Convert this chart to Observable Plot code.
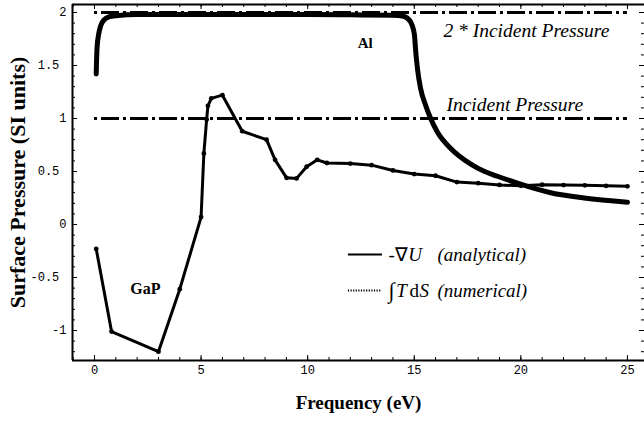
<!DOCTYPE html>
<html><head><meta charset="utf-8">
<script src="https://cdn.jsdelivr.net/npm/d3@7"></script>
<script src="https://cdn.jsdelivr.net/npm/@observablehq/plot@0.6"></script>
<style>body{margin:0;background:#fff}</style>
</head><body><div id="chart"></div>
<script>
// GaP surface pressure (thin line with points)
const gapFreq  = [0.08, 0.8, 3, 4, 5, 5.13, 5.26, 5.32, 5.48, 6, 6.93, 8.07, 8.47, 9.01, 9.48, 9.95, 10.45, 10.9, 12, 13, 14, 15, 16, 17, 18, 19, 20, 21, 22, 23, 24, 25];
const gapPress = [-0.23, -1.01, -1.2, -0.61, 0.07, 0.67, 0.99, 1.12, 1.19, 1.22, 0.88, 0.80, 0.61, 0.44, 0.435, 0.545, 0.61, 0.58, 0.575, 0.56, 0.51, 0.476, 0.46, 0.40, 0.39, 0.373, 0.365, 0.375, 0.372, 0.37, 0.365, 0.36];
// Al surface pressure (thick line)
const alFreq  = [0.08, 0.12, 0.2, 0.3, 0.45, 0.7, 1, 2, 4, 6, 8, 10, 12, 14, 14.5, 14.8, 15, 15.07, 15.15, 15.3, 15.54, 15.77, 16.09, 16.7, 17.65, 18.3, 18.9, 19.84, 21.4, 22.97, 25];
const alPress = [1.42, 1.67, 1.8, 1.88, 1.93, 1.96, 1.97, 1.98, 1.98, 1.98, 1.98, 1.98, 1.978, 1.975, 1.965, 1.92, 1.8, 1.63, 1.47, 1.28, 1.12, 1.0, 0.87, 0.72, 0.57, 0.5, 0.455, 0.39, 0.30, 0.25, 0.21];
// reference levels
const refLevels = [1, 2];
const refStart = 0, refEnd = 25;
// ticks
const xMajor = [0, 5, 10, 15, 20, 25];
const xMinor = d3.range(-1, 26, 1);
const yMajor = [-1, -0.5, 0, 0.5, 1, 1.5, 2];
const yMinor = d3.range(-12, 21, 1).map(d => d / 10);
const xDomain = [-1.032, 25.8];
const yDomain = [-1.283, 2.0755];

const gap = gapFreq.map((f, i) => ({f, p: gapPress[i]}));
const al = alFreq.map((f, i) => ({f, p: alPress[i]}));

const W = 644, H = 424, mT = 4, mB = 64, mL = 72, mR = 0;
const frameH = H - mT - mB, frameW = W - mL - mR;
const fmt = d => Number.isInteger(d) ? String(d) : String(d) + "\u00a0";
const serif = "'Liberation Serif', 'Times New Roman', serif";

const plot = Plot.plot({
  width: W, height: H, marginTop: mT, marginBottom: mB, marginLeft: mL, marginRight: mR,
  style: {fontFamily: "'Liberation Mono', monospace", fontSize: "12px", background: "white", color: "black"},
  x: {domain: xDomain, ticks: xMajor, tickFormat: fmt, tickSize: 0, tickPadding: 5, label: null},
  y: {domain: yDomain, ticks: yMajor, tickFormat: fmt, tickSize: 0, tickPadding: 6, label: null},
  marks: [
    // frame
    Plot.ruleX([xDomain[0]], {stroke: "black", strokeWidth: 2}),
    Plot.ruleY([yDomain[0]], {stroke: "black", strokeWidth: 2}),
    Plot.ruleY([yDomain[1]], {stroke: "black", strokeWidth: 2}),
    // inward ticks
    Plot.tickX(xMinor, {x: d => d, insetTop: frameH - 3, stroke: "black"}),
    Plot.tickX(xMajor, {x: d => d, insetTop: frameH - 5, stroke: "black"}),
    Plot.tickX(xMinor, {x: d => d, insetBottom: frameH - 3, stroke: "black"}),
    Plot.tickX(xMajor, {x: d => d, insetBottom: frameH - 5, stroke: "black"}),
    Plot.tickY(yMinor, {y: d => d, insetRight: frameW - 3, stroke: "black"}),
    Plot.tickY(yMajor, {y: d => d, insetRight: frameW - 5, stroke: "black"}),
    Plot.tickY(yMinor, {y: d => d, insetLeft: frameW - 3, stroke: "black"}),
    Plot.tickY(yMajor, {y: d => d, insetLeft: frameW - 5, stroke: "black"}),
    // reference lines
    Plot.ruleY(refLevels, {x1: refStart, x2: refEnd, stroke: "black", strokeWidth: 3, strokeDasharray: "3,4,18,4"}),
    // Al
    Plot.line(al, {x: "f", y: "p", stroke: "black", strokeWidth: 5, curve: "monotone-x"}),
    Plot.dot(al, {x: "f", y: "p", r: 2, fill: "black"}),
    // GaP
    Plot.line(gap, {x: "f", y: "p", stroke: "black", strokeWidth: 3}),
    Plot.dot(gap, {x: "f", y: "p", r: 2.4, fill: "black"}),
    // labels
    Plot.text(["Al"], {x: 12.7, y: 1.71, fontFamily: serif, fontWeight: "bold", fontSize: 15}),
    Plot.text(["GaP"], {x: 2.39, y: -0.61, fontFamily: serif, fontWeight: "bold", fontSize: 16}),
    Plot.text(["2 * Incident Pressure"], {x: 16.37, y: 1.83, textAnchor: "start", fontFamily: serif, fontStyle: "italic", fontSize: 19.5}),
    Plot.text(["Incident Pressure"], {x: 16.51, y: 1.13, textAnchor: "start", fontFamily: serif, fontStyle: "italic", fontSize: 19.5}),
    // legend
    Plot.ruleY([-0.283], {x1: 11.91, x2: 13.51, stroke: "black", strokeWidth: 2}),
    Plot.ruleY([-0.623], {x1: 11.91, x2: 13.47, stroke: "black", strokeWidth: 2, strokeDasharray: "1.2,1.4"}),
    Plot.text(["-\u2207"], {x: 13.79, y: -0.283, textAnchor: "start", fontFamily: serif, fontSize: 19}),
    Plot.text(["U"], {x: 14.72, y: -0.283, textAnchor: "start", fontFamily: serif, fontStyle: "italic", fontSize: 19}),
    Plot.text(["(analytical)"], {x: 16.09, y: -0.283, textAnchor: "start", fontFamily: serif, fontStyle: "italic", fontSize: 19}),
    Plot.text(["\u222B"], {x: 13.79, y: -0.623, textAnchor: "start", fontFamily: serif, fontSize: 22}),
    Plot.text(["T"], {x: 14.15, y: -0.623, textAnchor: "start", fontFamily: serif, fontStyle: "italic", fontSize: 19}),
    Plot.text(["d"], {x: 14.78, y: -0.623, textAnchor: "start", fontFamily: serif, fontSize: 19}),
    Plot.text(["S"], {x: 15.25, y: -0.623, textAnchor: "start", fontFamily: serif, fontStyle: "italic", fontSize: 19}),
    Plot.text(["(numerical)"], {x: 16.09, y: -0.623, textAnchor: "start", fontFamily: serif, fontStyle: "italic", fontSize: 19}),
    // axis titles
    Plot.text(["Frequency (eV)"], {frameAnchor: "bottom", dy: 48, fontFamily: serif, fontWeight: "bold", fontSize: 19}),
    Plot.text(["Surface Pressure (SI units)"], {frameAnchor: "left", dx: -55, rotate: -90, textAnchor: "middle", fontFamily: serif, fontWeight: "bold", fontSize: 22})
  ]
});
document.getElementById("chart").appendChild(plot);
</script>
</body></html>
